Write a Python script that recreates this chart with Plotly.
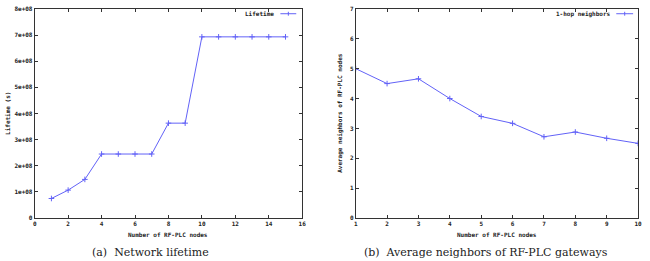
import plotly.graph_objects as go

# Data
nodes_a = list(range(1, 16))
lifetime = [0.75e8, 1.07e8, 1.48e8, 2.45e8, 2.45e8, 2.45e8, 2.45e8, 3.63e8, 3.63e8,
            6.93e8, 6.93e8, 6.93e8, 6.93e8, 6.93e8, 6.93e8]
nodes_b = list(range(1, 11))
neighbors = [5.0, 4.5, 4.66, 4.0, 3.4, 3.17, 2.72, 2.88, 2.67, 2.5]

xticks_a = list(range(0, 17, 2))
yticks_a = [i * 1e8 for i in range(0, 9)]
yticklabels_a = ["0"] + [f"{i}e+08" for i in range(1, 9)]
xticks_b = list(range(1, 11))
yticks_b = list(range(0, 8))

W, H = 650, 261
LINE = "#6262f7"
AX = "#333333"
mono = dict(family="DejaVu Sans Mono", size=6, color="#222", weight="bold")

fig = go.Figure()
for xs, ys, xa, ya in ((nodes_a, lifetime, "x", "y"), (nodes_b, neighbors, "x2", "y2")):
    fig.add_trace(go.Scatter(x=xs, y=ys, mode="lines+markers",
                             line=dict(color=LINE, width=1),
                             marker=dict(symbol="cross-thin", size=4, line=dict(color=LINE, width=1)),
                             xaxis=xa, yaxis=ya, showlegend=False))

def px(x):
    return x / W

def py(y):
    return 1 - y / H

axcommon = dict(showline=True, linecolor=AX, linewidth=1, mirror="ticks", ticks="inside",
                ticklen=3, tickcolor=AX, tickfont=mono, showgrid=False, zeroline=False)

fig.update_layout(
    width=W, height=H, margin=dict(l=0, r=0, t=0, b=0),
    plot_bgcolor="white", paper_bgcolor="white",
    xaxis=dict(domain=[px(33), px(303)], range=[0, 16], tickvals=xticks_a, anchor="y", **axcommon),
    yaxis=dict(domain=[py(220), py(5)], range=[0, 8e8], tickvals=yticks_a, ticktext=yticklabels_a,
               anchor="x", **axcommon),
    xaxis2=dict(domain=[px(357), px(642)], range=[1, 10], tickvals=xticks_b, anchor="y2", **axcommon),
    yaxis2=dict(domain=[py(220), py(5)], range=[0, 7], tickvals=yticks_b, anchor="x2", **axcommon),
)

def note(x, y, text, font, xanchor="center", angle=0):
    fig.add_annotation(x=px(x), y=py(y), xref="paper", yref="paper", text=text, textangle=angle,
                       showarrow=False, xanchor=xanchor, yanchor="middle", font=font)

# Axis titles
note(168, 237, "Number of RF-PLC nodes", mono)
note(500, 237, "Number of RF-PLC nodes", mono)
note(6, 112, "Lifetime (s)", mono, angle=-90)
note(341, 112, "Average neighbors of RF-PLC nodes", mono, angle=-90)

# Legends (gnuplot style: text then line sample)
note(277, 10, "Lifetime", mono, xanchor="right")
note(617, 10, "1-hop neighbors", mono, xanchor="right")
for x0, x1 in ((281, 297), (620, 637)):
    fig.add_shape(type="line", xref="paper", yref="paper", x0=px(x0), x1=px(x1), y0=py(10), y1=py(10),
                  line=dict(color=LINE, width=1))
    xc = (x0 + x1) / 2
    fig.add_shape(type="line", xref="paper", yref="paper", x0=px(xc), x1=px(xc), y0=py(8), y1=py(12),
                  line=dict(color=LINE, width=1))

# Captions
cap = dict(family="DejaVu Serif", size=11, color="#222")
note(150, 255, "(a)  Network lifetime", cap)
note(489, 255, "(b)  Average neighbors of RF-PLC gateways", cap)

fig.write_html("out.html")
